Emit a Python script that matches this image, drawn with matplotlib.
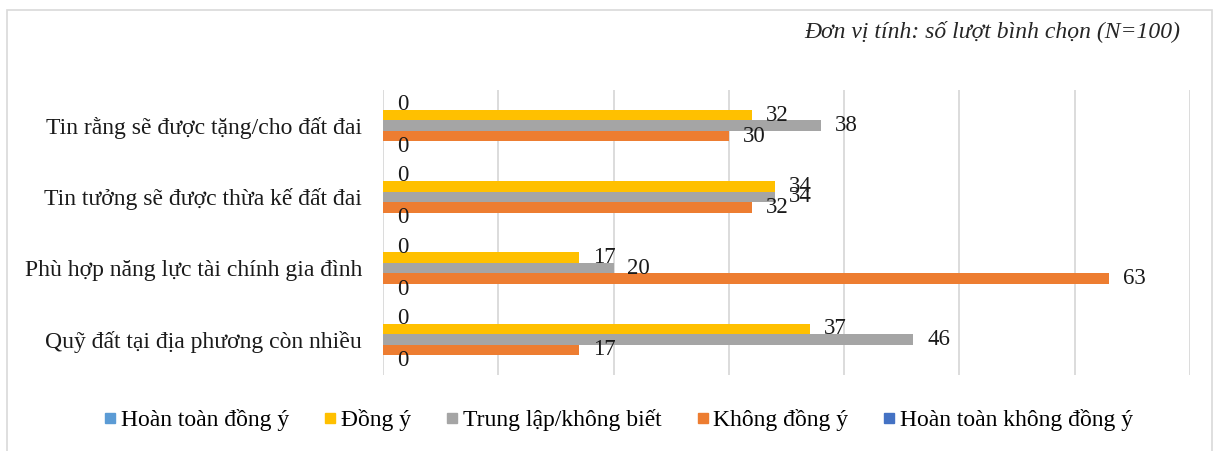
import matplotlib
matplotlib.use("Agg")
import matplotlib.pyplot as plt
from matplotlib.patches import Rectangle
from matplotlib.lines import Line2D
import numpy as np

plt.rcParams['font.family'] = ['Liberation Serif', 'DejaVu Serif']

categories = [
    "Tin rằng sẽ được tặng/cho đất đai",
    "Tin tưởng sẽ được thừa kế đất đai",
    "Phù hợp năng lực tài chính gia đình",
    "Quỹ đất tại địa phương còn nhiều",
]
series_names = [
    "Hoàn toàn đồng ý",
    "Đồng ý",
    "Trung lập/không biết",
    "Không đồng ý",
    "Hoàn toàn không đồng ý",
]
hoan_toan_dong_y = [0, 0, 0, 0]
dong_y = [32, 34, 17, 37]
trung_lap = [38, 34, 20, 46]
khong_dong_y = [30, 32, 63, 17]
hoan_toan_khong_dong_y = [0, 0, 0, 0]
series_values = [hoan_toan_dong_y, dong_y, trung_lap, khong_dong_y, hoan_toan_khong_dong_y]
colors = ["#5B9BD5", "#FFC000", "#A5A5A5", "#ED7D31", "#4472C4"]
unit_note = "Đơn vị tính: số lượt bình chọn (N=100)"

W, H = 1214, 451
fig = plt.figure(figsize=(W / 100, H / 100), dpi=100)
fig.patch.set_facecolor("white")

# outer chart frame
fig.add_artist(Rectangle((7 / W, -0.05), (1212 - 7) / W, 1.05 - 10 / H,
                         transform=fig.transFigure, fill=False,
                         edgecolor="#D9D9D9", linewidth=1.2))

ax = fig.add_axes([383 / W, 1 - 375 / H, (1190 - 383) / W, (375 - 90) / H])
ax.set_xlim(0, 70)
ax.set_ylim(3.5, -0.5)
ax.set_xticks(np.arange(0, 71, 10))
ax.xaxis.grid(True, color="#D9D9D9", linewidth=1.3)
ax.set_axisbelow(True)
for s in ax.spines.values():
    s.set_visible(False)
ax.tick_params(axis="x", length=0, labelbottom=False)
ax.tick_params(axis="y", length=0, pad=15)
y = np.arange(len(categories))
ax.set_yticks(y)
ax.set_yticklabels(categories, fontsize=17, color="#1a1a1a")

h = 0.147
offsets = [-2 * h, -h, 0, h, 2 * h]
for vals, col, off, name in zip(series_values, colors, offsets, series_names):
    ax.barh(y + off, vals, height=h, color=col, label=name)
    for yi, v in zip(y, vals):
        ax.annotate(f"{v}", (v, yi + off), xytext=(10, 0), textcoords="offset points",
                    ha="left", va="center", fontsize=16.5, color="#1a1a1a")

fig.text(1180 / W, 1 - 31 / H, unit_note, ha="right", va="center",
         fontsize=17, style="italic", color="#262626")

handles = [Line2D([], [], marker="s", linestyle="none", markersize=7,
                  markerfacecolor=c, markeredgecolor=c) for c in colors]
fig.legend(handles, series_names, loc="center", bbox_to_anchor=(618 / W, 1 - 420 / H),
           ncol=5, frameon=False, fontsize=17, handletextpad=0.15, columnspacing=1.45,
           handlelength=0.6)

fig.savefig("out.png", dpi=100, facecolor="white")
